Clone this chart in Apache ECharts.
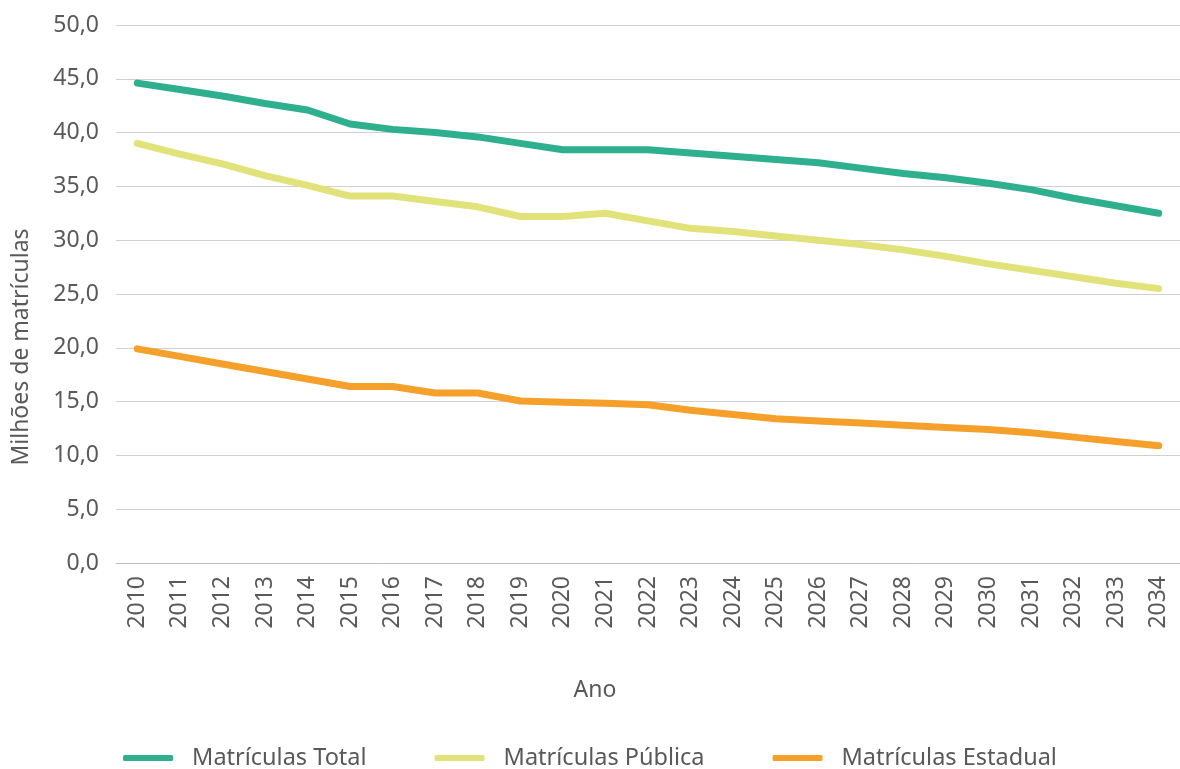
<!DOCTYPE html>
<html>
<head>
<meta charset="utf-8">
<script src="https://cdn.jsdelivr.net/npm/echarts@6/dist/echarts.min.js"></script>
<style>
    html, body { margin: 0; padding: 0; background: #fff; }
    #chart { width: 1180px; height: 769px; }
</style>
</head>
<body>
<div id="chart"></div>
<script>
const anos = ['2010', '2011', '2012', '2013', '2014', '2015', '2016', '2017', '2018', '2019', '2020', '2021',
    '2022', '2023', '2024', '2025', '2026', '2027', '2028', '2029', '2030', '2031', '2032', '2033', '2034'];

const matriculasTotal = [44.6, 44.0, 43.4, 42.7, 42.1, 40.8, 40.3, 40.0, 39.6, 39.0, 38.4, 38.4,
    38.4, 38.1, 37.8, 37.5, 37.2, 36.7, 36.2, 35.8, 35.3, 34.7, 33.9, 33.2, 32.5];

const matriculasPublica = [39.0, 38.0, 37.1, 36.0, 35.1, 34.1, 34.1, 33.6, 33.1, 32.2, 32.2, 32.5,
    31.8, 31.1, 30.8, 30.4, 30.0, 29.6, 29.1, 28.5, 27.8, 27.2, 26.6, 26.0, 25.5];

const matriculasEstadual = [19.9, 19.2, 18.5, 17.8, 17.1, 16.4, 16.4, 15.8, 15.8, 15.05, 14.95, 14.85,
    14.7, 14.2, 13.8, 13.4, 13.2, 13.0, 12.8, 12.6, 12.4, 12.1, 11.7, 11.3, 10.9];

const textColor = '#595959';
const fonte = 'Noto Sans';

const chart = echarts.init(document.getElementById('chart'));

function serie(nome, dados, cor) {
    return {
        name: nome,
        type: 'line',
        data: dados,
        symbol: 'none',
        itemStyle: { color: cor },
        lineStyle: { color: cor, width: 7, cap: 'round', join: 'round' }
    };
}

chart.setOption({
    animation: false,
    textStyle: { fontFamily: fonte },
    grid: { left: 116, top: 25, width: 1065, height: 538 },
    xAxis: {
        type: 'category',
        data: anos,
        boundaryGap: true,
        name: 'Ano',
        nameLocation: 'middle',
        nameGap: 116,
        nameTextStyle: { color: textColor, fontSize: 23, padding: [0, 106, 0, 0] },
        axisLine: { lineStyle: { color: '#bfbfbf', width: 1 } },
        axisTick: { show: false },
        axisLabel: { rotate: 90, color: textColor, fontSize: 23, margin: 13, interval: 0 }
    },
    yAxis: {
        type: 'value',
        min: 0,
        max: 50,
        interval: 5,
        name: 'Milhões de matrículas',
        nameLocation: 'middle',
        nameGap: 83,
        nameTextStyle: { color: textColor, fontSize: 23, padding: [0, 106, 0, 0] },
        axisLine: { show: false },
        axisTick: { show: false },
        axisLabel: {
            color: textColor,
            fontSize: 23,
            margin: 17,
            formatter: v => v.toFixed(1).replace('.', ',')
        },
        splitLine: { lineStyle: { color: '#d0d0d0', width: 1 } }
    },
    legend: {
        top: 741,
        left: 'center',
        icon: 'roundRect',
        itemWidth: 50,
        itemHeight: 6,
        itemGap: 68,
        textStyle: { color: textColor, fontSize: 23.5, padding: [0, 0, 0, 14] },
        data: ['Matrículas Total', 'Matrículas Pública', 'Matrículas Estadual']
    },
    series: [
        serie('Matrículas Total', matriculasTotal, '#2EB08F'),
        serie('Matrículas Pública', matriculasPublica, '#E2E27A'),
        serie('Matrículas Estadual', matriculasEstadual, '#F4A02A')
    ]
});
</script>
</body>
</html>
